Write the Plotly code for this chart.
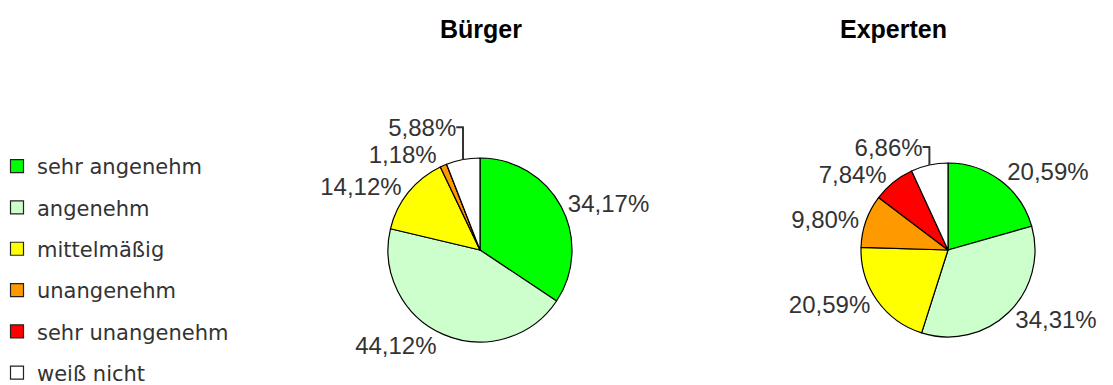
import plotly.graph_objects as go

categories = ["sehr angenehm", "angenehm", "mittelmäßig", "unangenehm", "sehr unangenehm", "weiß nicht"]
buerger_values = [34.17, 44.12, 14.12, 1.18, 0.0, 5.88]
experten_values = [20.59, 34.31, 20.59, 9.80, 7.84, 6.86]
colors = ["#00FF00", "#CCFFCC", "#FFFF00", "#FF9900", "#FF0000", "#FFFFFF"]

W, H = 1113, 385
OFF = 8  # page body margin


def fmt(vals):
    return [f"{v:.2f}%".replace(".", ",") if v > 0 else "" for v in vals]


def px_x(x):
    return (x - OFF) / W


def px_y(y):
    return 1 - (y - OFF) / H


def dom(cx, cy, r):
    # page pixel centre/radius -> paper domain
    return {"x": [px_x(cx - r), px_x(cx + r)], "y": [px_y(cy + r), px_y(cy - r)]}


fig = go.Figure()
pie_style = dict(
    sort=False,
    direction="clockwise",
    rotation=0,
    marker={"colors": colors, "line": {"color": "black", "width": 1.2}},
    textposition="outside",
    texttemplate="%{text}",
    textfont={"family": "Liberation Sans, Arial", "size": 24, "color": "#333333"},
    showlegend=False,
    hoverinfo="label+percent",
)
fig.add_trace(go.Pie(labels=categories, values=buerger_values, text=fmt(buerger_values),
                     domain=dom(480, 250, 92), name="Bürger", **pie_style))
fig.add_trace(go.Pie(labels=categories, values=experten_values, text=fmt(experten_values),
                     domain=dom(948, 250, 87), name="Experten", **pie_style))

# legend entries (one group each so the spacing can be set)
for cat, col in zip(categories, colors):
    fig.add_trace(go.Scatter(
        x=[None], y=[None], mode="markers", name=cat, legendgroup=cat,
        marker={"symbol": "square", "size": 13, "color": col, "line": {"color": "#222222", "width": 1.2}},
    ))

for title, cx in [("Bürger", 481), ("Experten", 949)]:
    fig.add_annotation(x=px_x(cx), y=px_y(29), xref="paper", yref="paper", text=f"<b>{title}</b>",
                       showarrow=False, yanchor="middle",
                       font={"family": "Liberation Sans, Arial", "size": 25, "color": "black"})

fig.update_layout(
    width=W,
    height=H,
    margin={"l": 0, "r": 0, "t": 0, "b": 0, "autoexpand": False},
    paper_bgcolor="white",
    plot_bgcolor="white",
    xaxis={"visible": False},
    yaxis={"visible": False},
    legend={
        "x": px_x(-3), "y": px_y(146), "xanchor": "left", "yanchor": "top",
        "font": {"family": "DejaVu Sans", "size": 21, "color": "#333333"},
        "tracegroupgap": 11, "itemwidth": 30, "bgcolor": "rgba(0,0,0,0)",
    },
)

fig.write_html("out.html")
